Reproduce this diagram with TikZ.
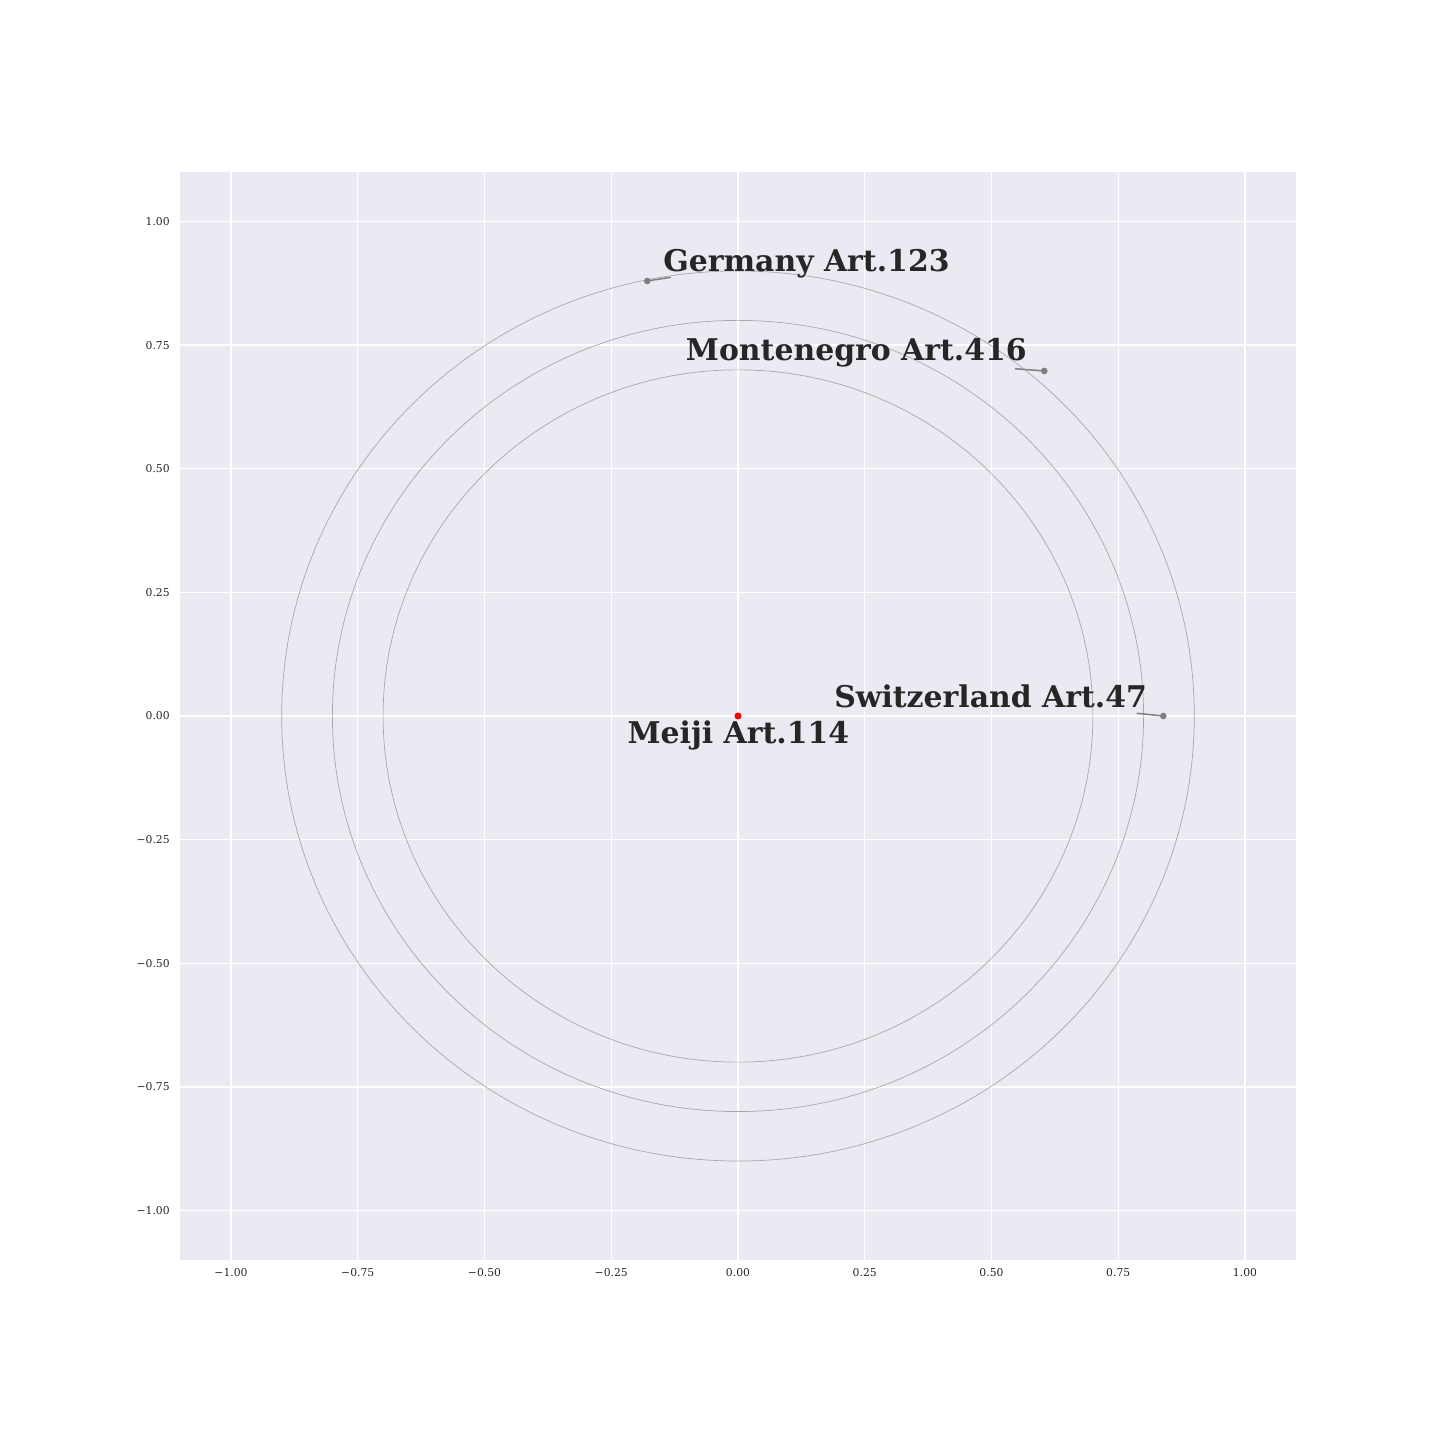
\documentclass[tikz,border=0pt]{standalone}
\usepackage{fontspec}
\setmainfont{DejaVu Serif}
\definecolor{axbg}{HTML}{EAEAF2}
\definecolor{txt}{HTML}{262626}
\definecolor{ringgray}{HTML}{A8A8A8}

\begin{document}
\begin{tikzpicture}[x=12.878cm,y=12.5603cm,
  dot/.style={circle,fill=gray,inner sep=0pt,minimum size=1.7mm},
  lbl/.style={anchor=base west,inner sep=0pt,text=txt,font=\fontsize{21.6}{26}\selectfont\bfseries},
  ticklbl/.style={text=txt,inner sep=0pt,font=\fontsize{7.8}{9}\selectfont},
  ring/.style={ringgray,line width=0.5pt},
  lead/.style={gray,line width=1.1pt}]
\useasboundingbox (-1.45562,-1.46410) rectangle (1.38462,1.44793);
% axes background and grid
\fill[axbg] (-1.1,-1.1) rectangle (1.1,1.1);
\foreach \t/\s in {-1/−1.00,-0.75/−0.75,-0.5/−0.50,-0.25/−0.25,0/0.00,0.25/0.25,0.5/0.50,0.75/0.75,1/1.00} {
  \draw[white,line width=1pt] (\t,-1.1) -- (\t,1.1);
  \draw[white,line width=1pt] (-1.1,\t) -- (1.1,\t);
  \node[ticklbl,anchor=center] (xt\t) at (\t,-1.1264) {\s};
  \node[ticklbl,anchor=east] (yt\t) at (-1.1203,\t) {\s};
}
% rings
\foreach \r in {0.7,0.8,0.9} \draw[ring] (0,0) circle[radius=\r];
% points
\node[dot,fill=red,minimum size=1.8mm] (meiji) at (0,0) {};
\node[dot] (germany) at (-0.1789,0.8797) {};
\node[dot] (montenegro) at (0.6041,0.6977) {};
\node[dot] (switzerland) at (0.8389,0) {};
% labels
\node[lbl] (meijilbl) at (-0.2183,-0.0566) {Meiji Art.114};
\node[lbl] (germanylbl) at (-0.1479,0.8979) {Germany Art.123};
\node[lbl] (montenegrolbl) at (-0.1032,0.7179) {Montenegro Art.416};
\node[lbl] (switzerlandlbl) at (0.1893,0.0176) {Switzerland Art.47};
% leader lines
\coordinate (germanytip) at (-0.1327,0.8872);
\coordinate (montenegrotip) at (0.5464,0.7023);
\coordinate (switzerlandtip) at (0.7864,0.0055);
\draw[lead] (germany.center) -- (germanytip);
\draw[lead] (montenegro.center) -- (montenegrotip);
\draw[lead] (switzerland.center) -- (switzerlandtip);
\end{tikzpicture}
\end{document}
